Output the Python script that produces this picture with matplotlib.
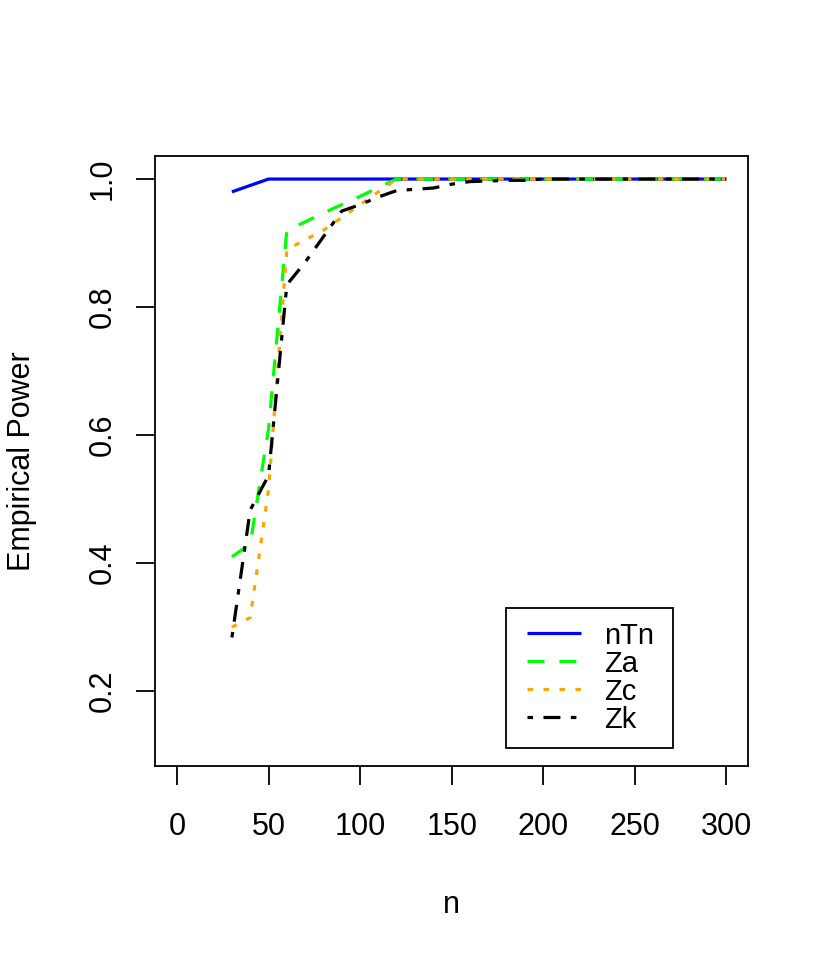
import matplotlib
matplotlib.use("Agg")
import matplotlib.pyplot as plt
from matplotlib.patches import Rectangle

plt.rcParams['font.family'] = ['Liberation Sans', 'DejaVu Sans']
plt.rcParams['lines.scale_dashes'] = False

n = [30, 40, 50, 60, 70, 80, 90, 100, 110, 120, 130, 140, 150, 160, 170, 180, 190,
     200, 210, 220, 230, 240, 250, 260, 270, 280, 290, 300]
nTn = [0.98, 0.99] + [1.0] * 26
Za = [0.41, 0.43, 0.61, 0.92, 0.933, 0.947, 0.96, 0.973, 0.987] + [1.0] * 19
Zc = [0.30, 0.315, 0.515, 0.89, 0.905, 0.92, 0.94, 0.96, 0.98] + [1.0] * 19
Zk = [0.284, 0.483, 0.537, 0.835, 0.87, 0.91, 0.95, 0.96, 0.972, 0.982, 0.984, 0.986,
      0.992, 0.996, 0.997, 0.998, 0.998] + [1.0] * 11

labels = ["nTn", "Za", "Zc", "Zk"]
colors = ["#0000FF", "#00FF00", "#FFA500", "#000000"]
styles = ["-", (0, (12.2, 10.8)), (0, (4, 7.5)), (0, (4, 7.5, 12.2, 7.5))]

fig = plt.figure(figsize=(8.29, 9.6), dpi=100)
ax = fig.add_axes([155/829, 1-765.7/960, (748.3-155)/829, (765.7-156)/960])

series = [nTn, Za, Zc, Zk]
handles = []
for s, c, ls, lab in zip(series, colors, styles, labels):
    h, = ax.plot(n, s, color=c, linestyle=ls, linewidth=2.3, label=lab,
                 dash_capstyle='butt', solid_capstyle='butt')
    handles.append(h)

ax.set_xlim(-12, 312)
ax.set_ylim(0.0837, 1.036)
ax.set_xticks([0, 50, 100, 150, 200, 250, 300])
ax.set_yticks([0.2, 0.4, 0.6, 0.8, 1.0])
ax.set_yticklabels(["0.2", "0.4", "0.6", "0.8", "1.0"])
for sp in ax.spines.values():
    sp.set_linewidth(1.3)
ax.tick_params(axis='both', length=14, width=1.3, labelsize=22, direction='out')
ax.tick_params(axis='x', pad=19)
ax.tick_params(axis='y', pad=13)
plt.setp(ax.get_yticklabels(), rotation=90, va='center')

ax.set_xlabel("n", fontsize=22)
ax.set_ylabel("Empirical Power", fontsize=22)
ax.xaxis.set_label_coords(0.5, -0.204)
ax.yaxis.set_label_coords(-0.199, 0.5)

# legend box
bx0 = (506-155)/593.3
by0 = (765.7-747.7)/609.7
bw = (673.3-506)/593.3
bh = (747.7-607.7)/609.7
ax.add_patch(Rectangle((bx0, by0), bw, bh, transform=ax.transAxes, fill=False,
                       edgecolor='black', linewidth=1.3, zorder=5))
leg = ax.legend(handles=handles, loc='center', frameon=False, fontsize=21,
                bbox_to_anchor=(bx0 + bw/2 + 1/593.3, by0 + bh/2), handlelength=1.85,
                handletextpad=0.8, labelspacing=0.0, borderpad=0)

fig.savefig("out.png", dpi=100, facecolor='white')
